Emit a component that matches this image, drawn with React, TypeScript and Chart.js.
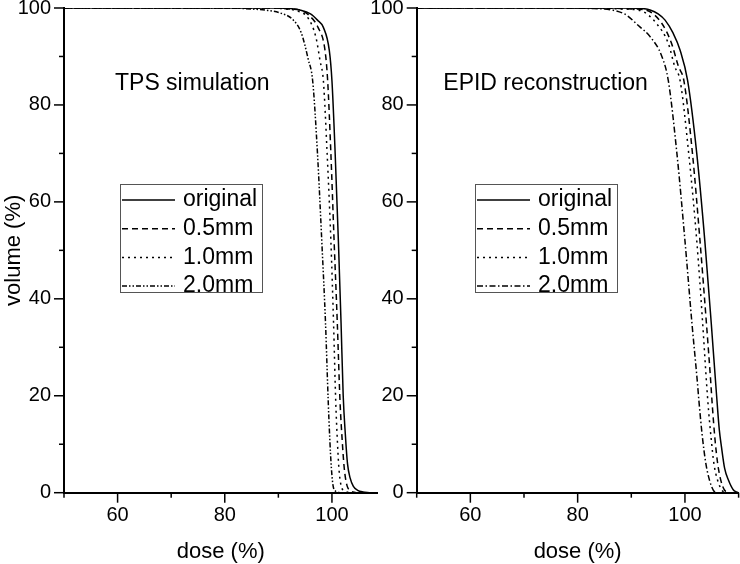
import React, { useEffect, useRef } from 'react';
import { Chart, registerables } from 'chart.js';

Chart.register(...registerables);

// ---------- data ----------
const seriesNames = ['original', '0.5mm', '1.0mm', '2.0mm'];
const panelTitles = ['TPS simulation', 'EPID reconstruction'];
const xAxisTitle = 'dose (%)';
const yAxisTitle = 'volume (%)';

// TPS simulation: [dose %, volume %]
const tpsOriginal = [[50, 100], [90, 100], [92, 99.9], [94, 99.6], [96, 98.8], [97.3, 97.5], [98.4, 96], [99.5, 91.3], [100, 85], [100.6, 70], [101.2, 52], [101.7, 35], [102.1, 20], [102.5, 12], [102.9, 6], [103.4, 3], [104, 1.3], [104.8, 0.5], [105.8, 0.15], [107, 0]];
const tps05 = [[50, 100], [89, 100], [92, 99.8], [94.5, 99.4], [95.6, 98.6], [97.4, 96], [98.7, 91.3], [99.2, 85], [99.8, 70], [100.4, 52], [101, 35], [101.5, 19], [101.9, 11], [102.3, 5], [102.8, 1.5], [103.5, 0.4], [104.5, 0]];
const tps10 = [[50, 100], [88, 100], [91.5, 99.8], [93.5, 99.4], [95.5, 98], [97, 94], [97.8, 89], [98.4, 85], [99.1, 70], [99.8, 52], [100.3, 35], [100.7, 19], [101, 11], [101.3, 5], [101.7, 1.5], [102.3, 0.4], [103.3, 0]];
const tps20 = [[50, 100], [80, 100], [85, 99.8], [88, 99.5], [90.3, 99], [92.8, 97.5], [94.3, 94.8], [95.6, 89.3], [96.4, 85], [97.3, 70], [98.1, 52], [98.8, 35], [99.3, 19], [99.6, 11], [99.9, 5], [100.2, 1.5], [100.7, 0.3], [101.5, 0]];

// EPID reconstruction: [dose %, volume %]
const epidOriginal = [[50, 100], [88, 100], [92, 99.9], [93.5, 99.6], [95, 98.8], [96.3, 97.5], [97.8, 94.8], [99.1, 91.3], [100.5, 85], [102.2, 70], [103.7, 52], [104.9, 35], [105.9, 20], [106.4, 13], [106.8, 9.5], [107.4, 5], [108.1, 2.6], [109, 0.6], [109.6, 0.15], [110, 0]];
const epid05 = [[50, 100], [85, 100], [90, 99.8], [92.6, 99.6], [95.7, 96.8], [97.5, 92.7], [98.8, 87.9], [99.8, 85], [101.4, 70], [102.8, 52], [104, 35], [104.8, 23], [105.1, 18], [105.6, 11], [106.1, 6], [106.7, 2.5], [107.4, 0.5], [108.2, 0]];
const epid10 = [[50, 100], [82, 100], [88, 99.8], [91.6, 99.5], [94.7, 96.8], [96.9, 92.7], [98.1, 87.9], [99.1, 85], [100.7, 70], [102.2, 52], [103.3, 35], [104, 23], [104.4, 17], [104.9, 11], [105.4, 6], [106.1, 2.5], [106.9, 0.5], [107.5, 0]];
const epid20 = [[50, 100], [75, 100], [82.3, 99.9], [88.5, 98.9], [91.6, 96.1], [93.5, 94.1], [95.7, 90], [96.9, 85], [98.5, 70], [100, 52], [101.3, 35], [102.3, 23], [102.6, 19], [103.2, 12], [103.9, 6], [104.6, 2.5], [105.3, 0.5], [106, 0]];

const tpsXRange = [50, 108.5];
const epidXRange = [50, 110];
const yRange = [0, 100];

// ---------- styles ----------
const FONT = '"Liberation Sans", Arial, Helvetica, sans-serif';
const dashLeft = [[], [6, 4], [2, 4], [5, 2, 1.5, 2, 1.5, 2]];
const dashRight = [[], [6, 4], [2, 4], [6, 2.5, 1.5, 2.5]];

const tickMarksPlugin = {
  id: 'tickMarks',
  afterDraw(chart: any) {
    const ctx = chart.ctx;
    const xs = chart.scales.x;
    const ys = chart.scales.y;
    ctx.save();
    ctx.strokeStyle = '#000';
    ctx.lineWidth = 1.5;
    ctx.setLineDash([]);
    xs.ticks.forEach((t: any) => {
      const px = xs.getPixelForValue(t.value);
      const len = t.value % 20 === 0 ? 10 : 5;
      ctx.beginPath();
      ctx.moveTo(px, xs.top);
      ctx.lineTo(px, xs.top + len);
      ctx.stroke();
    });
    ys.ticks.forEach((t: any) => {
      const py = ys.getPixelForValue(t.value);
      const len = t.value % 20 === 0 ? 10 : 5;
      ctx.beginPath();
      ctx.moveTo(ys.right, py);
      ctx.lineTo(ys.right - len, py);
      ctx.stroke();
    });
    ctx.restore();
  },
};

function makeOverlayPlugin(title: string, titleDx: number, legendDx: number, dashes: number[][]) {
  return {
    id: 'overlay',
    afterDraw(chart: any) {
      const ctx = chart.ctx;
      const area = chart.chartArea;
      ctx.save();
      ctx.fillStyle = '#000';
      ctx.font = `23px ${FONT}`;
      ctx.textBaseline = 'alphabetic';
      ctx.textAlign = 'left';
      ctx.fillText(title, area.left + titleDx, 90);

      // legend box
      const bx = area.left + legendDx;
      const by = 184;
      const bw = 142;
      const bh = 108;
      ctx.strokeStyle = '#555';
      ctx.lineWidth = 1;
      ctx.setLineDash([]);
      ctx.strokeRect(bx + 0.5, by + 0.5, bw, bh);
      ctx.font = `23px ${FONT}`;
      ctx.textBaseline = 'middle';
      seriesNames.forEach((name, i) => {
        const ry = 200 + i * 28.7;
        ctx.strokeStyle = '#000';
        ctx.lineWidth = 1.5;
        ctx.setLineDash(dashes[i]);
        ctx.beginPath();
        ctx.moveTo(bx + 2, ry);
        ctx.lineTo(bx + 55, ry);
        ctx.stroke();
        ctx.setLineDash([]);
        ctx.fillText(name, bx + 63, ry);
      });
      ctx.restore();
    },
  };
}

function buildConfig(series: number[][][], dashes: number[][], xRange: number[], yWidth: number, rightPad: number, showYTitle: boolean, overlay: any) {
  return {
    type: 'line' as const,
    data: {
      datasets: series.map((pts, i) => ({
        label: seriesNames[i],
        data: pts.map(([x, y]) => ({ x, y })),
        borderColor: '#000',
        borderWidth: 1.5,
        borderDash: dashes[i],
        pointRadius: 0,
        fill: false,
        tension: 0.4,
        cubicInterpolationMode: 'monotone' as const,
      })),
    },
    options: {
      animation: false as const,
      responsive: false,
      events: [],
      layout: { padding: { top: 8, right: rightPad, left: 0, bottom: 0 } },
      plugins: { legend: { display: false }, tooltip: { enabled: false } },
      scales: {
        x: {
          type: 'linear' as const,
          min: xRange[0],
          max: xRange[1],
          grid: { display: false, drawTicks: true, tickLength: 10 },
          border: { display: true, color: '#000', width: 2 },
          ticks: {
            stepSize: 10,
            includeBounds: false,
            autoSkip: false,
            maxRotation: 0,
            padding: 1,
            color: '#000',
            font: { family: FONT, size: 20 },
            callback: (v: any) => (Number(v) % 20 === 0 ? String(v) : ''),
          },
          title: {
            display: true,
            text: xAxisTitle,
            color: '#000',
            font: { family: FONT, size: 22, lineHeight: 1 },
            padding: { top: 0, bottom: 1 },
          },
          afterFit: (s: any) => { s.height = 564 - 492.7; s.paddingLeft = 0; s.paddingRight = 0; },
        },
        y: {
          type: 'linear' as const,
          min: yRange[0],
          max: yRange[1],
          grid: { display: false, drawTicks: true, tickLength: 10 },
          border: { display: true, color: '#000', width: 2 },
          ticks: {
            stepSize: 10,
            autoSkip: false,
            padding: 3,
            color: '#000',
            font: { family: FONT, size: 20, lineHeight: 0.6 },
            callback: (v: any) => (Number(v) % 20 === 0 ? String(v) : ''),
          },
          title: {
            display: showYTitle,
            text: yAxisTitle,
            color: '#000',
            font: { family: FONT, size: 22, lineHeight: 1 },
            padding: { top: 3, bottom: 0 },
          },
          afterFit: (s: any) => { s.width = yWidth; s.paddingTop = 0; s.paddingBottom = 0; },
        },
      },
    },
    plugins: [tickMarksPlugin, overlay],
  };
}

export default function App() {
  const leftRef = useRef<HTMLCanvasElement>(null);
  const rightRef = useRef<HTMLCanvasElement>(null);

  useEffect(() => {
    const left = new Chart(
      leftRef.current as HTMLCanvasElement,
      buildConfig([tpsOriginal, tps05, tps10, tps20], dashLeft, tpsXRange, 64, 2.5, true,
        makeOverlayPlugin(panelTitles[0], 51, 56, dashLeft)) as any
    );
    const right = new Chart(
      rightRef.current as HTMLCanvasElement,
      buildConfig([epidOriginal, epid05, epid10, epid20], dashRight, epidXRange, 46.7, 1.4, false,
        makeOverlayPlugin(panelTitles[1], 26.6, 58.3, dashRight)) as any
    );
    return () => {
      left.destroy();
      right.destroy();
    };
  }, []);

  return (
    <div style={{ position: 'fixed', left: 0, top: 0, width: 740, height: 564, background: '#fff', overflow: 'hidden' }}>
      <canvas ref={leftRef} width={380} height={564} style={{ position: 'absolute', left: 0, top: 0, width: 380, height: 564 }} />
      <canvas ref={rightRef} width={370} height={564} style={{ position: 'absolute', left: 370, top: 0, width: 370, height: 564 }} />
    </div>
  );
}
